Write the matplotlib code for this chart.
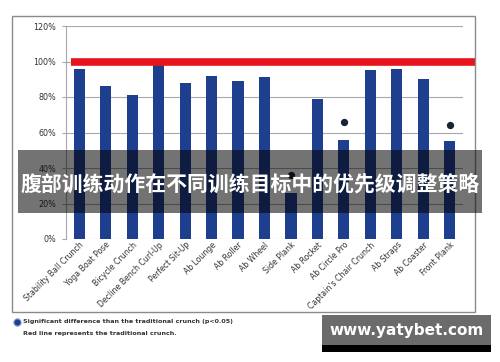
import matplotlib.pyplot as plt
from matplotlib.patches import Rectangle
import numpy as np

exercises = ['Stability Ball Crunch', 'Yoga Boat Pose', 'Bicycle Crunch', 'Decline Bench Curl-Up',
             'Perfect Sit-Up', 'Ab Lounge', 'Ab Roller', 'Ab Wheel', 'Side Plank', 'Ab Rocket',
             'Ab Circle Pro', "Captain's Chair Crunch", 'Ab Straps', 'Ab Coaster', 'Front Plank']
activation = [96, 86, 81, 98, 88, 92, 89, 91, 26, 79, 56, 95, 96, 90, 55]
sig_names = ['Side Plank', 'Ab Circle Pro', 'Front Plank']
sig_marks = [36, 66, 64]
crunch_ref = 100
yticks = [0, 20, 40, 60, 80, 100, 120]

fig = plt.figure(figsize=(5.0, 3.62), dpi=100)
fig.patch.set_facecolor('white')

ax = fig.add_axes([66/500, 1-239/362, 397/500, 213/362])
ax.set_facecolor('none')
x = np.arange(len(exercises))
ax.bar(x, activation, width=0.42, color='#1d3f8e', zorder=2)
ax.set_xlim(-0.5, len(exercises)-0.5)
ax.set_ylim(0, 120)
ax.set_yticks(yticks)
ax.set_yticklabels([f'{v}%' for v in yticks], fontsize=5.8, color='#333333')
ax.yaxis.grid(True, color='#a8a8a8', lw=0.8, zorder=0)
ax.tick_params(axis='y', length=3, color='#a8a8a8', pad=4)
ax.tick_params(axis='x', length=0, pad=1)
ax.set_xticks(x)
ax.set_xticklabels(exercises, rotation=45, ha='right', rotation_mode='anchor', fontsize=5.6, color='#333333')
for s in ['top', 'right', 'bottom']:
    ax.spines[s].set_visible(False)
ax.spines['left'].set_color('#a8a8a8')

# red reference line (traditional crunch)
ax.plot([-0.3, len(exercises)-0.5+0.45], [crunch_ref, crunch_ref], color='#e8141c', lw=5.5,
        solid_capstyle='butt', zorder=3, clip_on=False)

sx = [exercises.index(n) for n in sig_names]
ax.scatter(sx, sig_marks, s=18, color='#1a2238', zorder=4)

# overlay in pixel coords
ax2 = fig.add_axes([0, 0, 1, 1], facecolor='none')
ax2.set_xlim(0, 500); ax2.set_ylim(362, 0); ax2.axis('off')

# outer chart frame
ax2.add_patch(Rectangle((12, 16), 463, 296, fill=False, edgecolor='#8a8a8a', lw=1.0))

# legend notes
ax2.scatter([17], [322], s=28, color='#1d3f8e', edgecolors='#8fa8d8', linewidths=0.8)
ax2.text(23, 322, 'Significant difference than the traditional crunch (p<0.05)', fontsize=4.6,
         fontweight='bold', color='#333333', va='center')
ax2.text(23, 334, 'Red line represents the traditional crunch.', fontsize=4.6,
         fontweight='bold', color='#333333', va='center')

# title banner
ax2.add_patch(Rectangle((18, 150), 464, 63, facecolor='black', alpha=0.55, lw=0))
ax2.text(250, 184, '腹部训练动作在不同训练目标中的优先级调整策略', fontsize=15, fontweight='bold',
         color='white', ha='center', va='center', family=['Noto Sans CJK SC', 'DejaVu Sans'])

# watermark
ax2.add_patch(Rectangle((322, 315), 169, 30, facecolor='#6b6b6b', lw=0))
ax2.add_patch(Rectangle((322, 345), 169, 7, facecolor='black', lw=0))
ax2.text(407, 331, 'www.yatybet.com', fontsize=11, fontweight='bold', color='white',
         ha='center', va='center')

fig.savefig('out.png', dpi=100)
